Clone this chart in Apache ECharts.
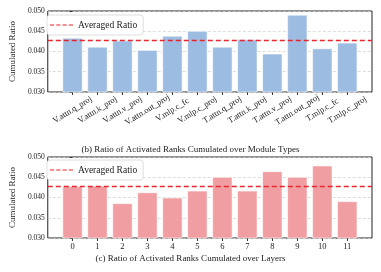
<!DOCTYPE html>
<html><head><meta charset="utf-8">
<script src="https://cdn.jsdelivr.net/npm/echarts@6/dist/echarts.min.js"></script>
<style>html,body{margin:0;padding:0;background:#fff}#c{width:381px;height:272px}</style>
</head><body><div id="c"></div>
<script>
const moduleTypes = ['V.attn.q_proj','V.attn.k_proj','V.attn.v_proj','V.attn.out_proj','V.mlp.c_fc','V.mlp.c_proj','T.attn.q_proj','T.attn.k_proj','T.attn.v_proj','T.attn.out_proj','T.mlp.c_fc','T.mlp.c_proj'];
const moduleRatios = [0.0434,0.0412,0.0427,0.0404,0.0439,0.0451,0.0412,0.0430,0.0395,0.0491,0.0408,0.0422];
const layers = ['0','1','2','3','4','5','6','7','8','9','10','11'];
const layerRatios = [0.0428,0.0429,0.0386,0.0413,0.0400,0.0417,0.0451,0.0417,0.0465,0.0451,0.0479,0.0391];
const averagedRatios = [0.0427,0.0428];
const yTicks = [0.030,0.035,0.040,0.045,0.050];
const legendName = 'Averaged Ratio';
const titles = ['(b) Ratio of Activated Ranks Cumulated over Module Types','(c) Ratio of Activated Ranks Cumulated over Layers'];

const FONT = '"Liberation Serif", "DejaVu Serif", serif';
const chart = echarts.init(document.getElementById('c'), null, {renderer:'canvas'});
const XMIN = -0.99, XMAX = 11.99;
const grids = [
  {left:41, right:9, top:11, height:81},
  {left:41, right:9, top:157, height:81}
];
const barColors = ['#9dbce2','#f09ea2'];
const RED = '#e8262e';
const cats = [moduleTypes, layers];
const vals = [moduleRatios, layerRatios];
const idx = moduleTypes.map((_,i)=>i);
const seriesKeys = ['avg-b','avg-c'];

const xAxes = [0,1].map(g=>({
  type:'value', gridIndex:g, min:XMIN, max:XMAX,
  axisLine:{show:false}, splitLine:{show:false},
  axisTick:{show:true, customValues:idx, length:3, lineStyle:{color:'#333'}},
  axisLabel: g===0 ? {show:true, customValues:idx, formatter:v=>cats[g][Math.round(v)],
    fontFamily:FONT, fontSize:8.5, color:'#222', rotate:32, align:'center', verticalAlign:'middle', margin:18}
   : {show:true, customValues:idx, formatter:v=>cats[g][Math.round(v)],
    fontFamily:FONT, fontSize:8.5, color:'#222', margin:4}
}));
const yAxes = [0,1].map(g=>({
  type:'value', gridIndex:g, min:yTicks[0], max:yTicks[yTicks.length-1], interval:0.005,
  name:'Cumulated Ratio', nameLocation:'middle', nameGap:26,
  nameTextStyle:{fontFamily:FONT, fontSize:9, color:'#222'},
  axisLine:{show:false},
  axisTick:{show:true, length:3, lineStyle:{color:'#333'}},
  axisLabel:{fontFamily:FONT, fontSize:7.5, color:'#222', margin:3, formatter:v=>v.toFixed(3)},
  splitLine:{show:true, lineStyle:{color:'#cfcfcf', type:[3,2], width:0.7}}
}));
const series = [];
[0,1].forEach(g=>{
  series.push({
    type:'bar', xAxisIndex:g, yAxisIndex:g, barWidth:20.4,
    data: vals[g].map((v,i)=>[i,v]),
    itemStyle:{color:barColors[g], borderColor:'rgba(255,255,255,0.55)', borderWidth:1},
    emphasis:{disabled:true},
    markLine:{silent:true, symbol:'none', label:{show:false},
      lineStyle:{color:RED, type:[5,3], width:1.3},
      data:[[{coord:[XMIN, averagedRatios[g]]},{coord:[XMAX, averagedRatios[g]]}]]},
    z:2
  });
  series.push({
    type:'line', name:seriesKeys[g], xAxisIndex:g, yAxisIndex:g, data:[],
    symbol:'none', color:RED, lineStyle:{color:RED, type:[5,3], width:1.3}
  });
});
const dashIcon = 'path://M0,0h5v1h-5z M7.5,0h5v1h-5z M15,0h5v1h-5z M22.5,0h5v1h-5z';
chart.setOption({
  animation:false,
  textStyle:{fontFamily:FONT},
  grid: grids.map(gr=>Object.assign({show:true, borderColor:'#222', borderWidth:1, backgroundColor:'transparent', containLabel:false}, gr)),
  xAxis:xAxes, yAxis:yAxes,
  legend:[0,1].map(g=>({
    data:[{name:seriesKeys[g], icon:dashIcon, itemStyle:{color:RED}}],
    formatter:()=>legendName,
    left:47, top:g===0?15:160, padding:[5,6,5,3],
    backgroundColor:'#fff', borderColor:'#d6d6d6', borderWidth:0.8, borderRadius:3,
    itemWidth:23, itemHeight:1.3, itemGap:5,
    textStyle:{fontFamily:FONT, fontSize:9.5, color:'#222'}
  })),
  title: titles.map((t,g)=>({text:t, left:'center', top:g===0?145:254,
    textStyle:{fontFamily:FONT, fontSize:9, fontWeight:'normal', color:'#222'}, padding:0})),
  series
});
</script></body></html>
